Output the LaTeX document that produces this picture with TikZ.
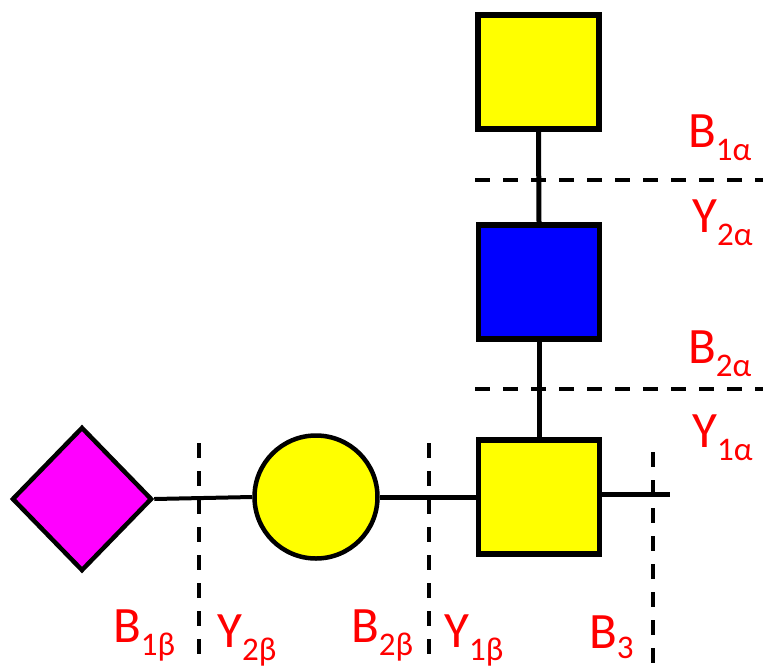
\documentclass[tikz,border=0pt]{standalone}
\usepackage{fontspec}
\setmainfont{Carlito}
\usetikzlibrary{shapes.geometric}
\definecolor{glcyellow}{RGB}{255,255,0}
\definecolor{glcblue}{RGB}{0,0,255}
\definecolor{sialic}{RGB}{255,0,255}
\definecolor{fragred}{RGB}{255,0,0}
\newcommand{\fraglabel}[3][-13pt]{#2\raisebox{#1}{\fontsize{33}{33}\selectfont #3}}
\begin{document}
\begin{tikzpicture}[x=1pt,y=-1pt,
  sq/.style={draw=black,line width=5.5pt,rectangle,inner sep=0pt,minimum width=121pt,minimum height=114pt},
  circ/.style={draw=black,line width=4.5pt,circle,inner sep=0pt,minimum size=123pt,fill=glcyellow},
  dmd/.style={draw=black,line width=4.5pt,diamond,aspect=1,inner sep=0pt,minimum width=140pt,minimum height=144pt,fill=sialic},
  link/.style={line width=5pt},
  cut/.style={line width=4pt,dash pattern=on 15pt off 13pt},
  frag/.style={text=fragred,font=\fontsize{51}{51}\selectfont,anchor=base west,inner sep=0pt}]
\useasboundingbox (0,0) rectangle (763,667);
\fill[white] (0,0) rectangle (763,667);

% residues
\node[sq,fill=glcyellow] (top) at (538.5,72) {};
\node[sq,fill=glcblue] (mid) at (539,282) {};
\node[sq,fill=glcyellow] (core) at (539,497) {};
\node[circ] (gal) at (316,497) {};
\node[dmd] (neu) at (82,499) {};
\coordinate (red) at (670,494);

% glycosidic links
\draw[link] (top.south) -- (mid.north);
\draw[link] (mid.south) -- (core.north);
\draw[link] (core.east |- red) -- (red);
\draw[link] (gal.east) -- (core.west |- gal.east);
\draw[line width=4pt] (neu.east) -- (gal.west);

% cleavage lines
\coordinate (h1a) at (475,180);
\coordinate (h1b) at (763,180);
\coordinate (h2a) at (475,389);
\coordinate (h2b) at (763,389);
\coordinate (v1a) at (199,443);
\coordinate (v1b) at (199,660);
\coordinate (v2a) at (429,443);
\coordinate (v2b) at (429,660);
\coordinate (v3a) at (653,452);
\coordinate (v3b) at (653,667);
\draw[cut] (h1a) -- (h1b);
\draw[cut] (h2a) -- (h2b);
\draw[cut] (v1a) -- (v1b);
\draw[cut] (v2a) -- (v2b);
\draw[cut] (v3a) -- (v3b);

% fragment labels
\node[frag] (b1a) at (688,147) {\fraglabel{B}{1α}};
\node[frag] (y2a) at (692,232) {\fraglabel{Y}{2α}};
\node[frag] (b2a) at (688,363) {\fraglabel{B}{2α}};
\node[frag] (y1a) at (692,447) {\fraglabel{Y}{1α}};
\node[frag] (b1b) at (113,642) {\fraglabel{B}{1β}};
\node[frag] (y2b) at (217,647) {\fraglabel{Y}{2β}};
\node[frag] (b2b) at (351,642) {\fraglabel{B}{2β}};
\node[frag] (y1b) at (444,647) {\fraglabel{Y}{1β}};
\node[frag] (b3) at (589,648) {\fraglabel[-10pt]{B}{3}};
\end{tikzpicture}
\end{document}
